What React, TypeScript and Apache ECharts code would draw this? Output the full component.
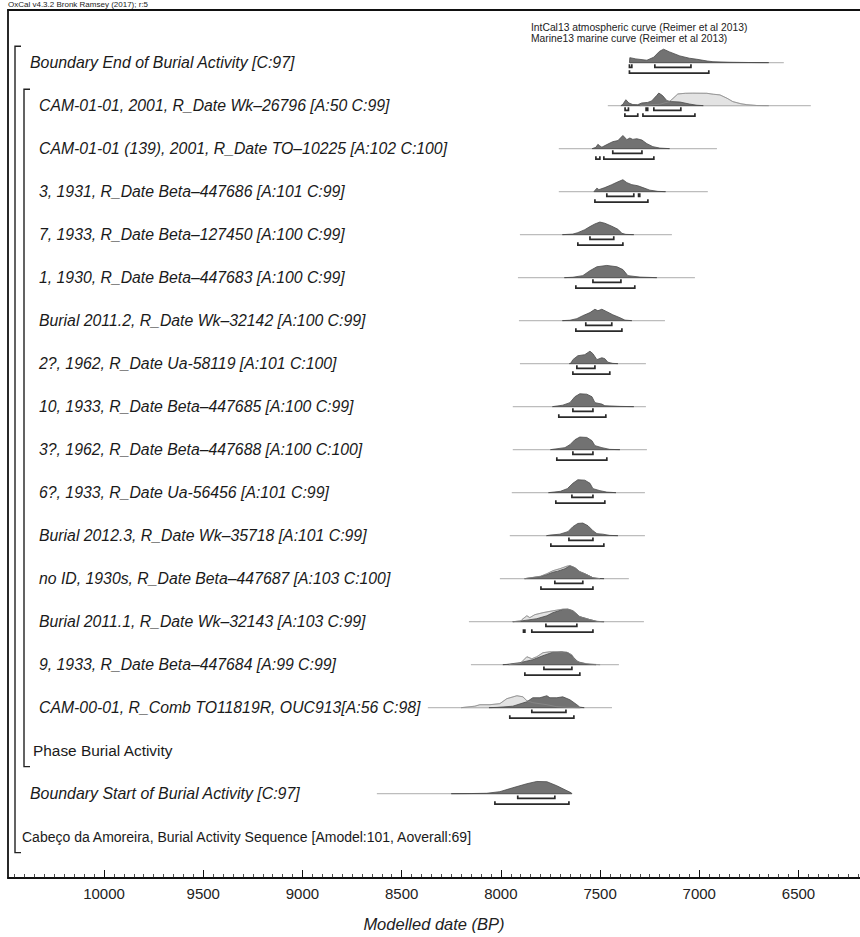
import React, { useEffect, useRef } from "react";
import * as echarts from "echarts";

const FONT = '"Liberation Sans", Arial, sans-serif';

// ---- rows (top to bottom) ----
const rowLabels = [
  "Boundary End of Burial Activity [C:97]",
  "CAM-01-01, 2001, R_Date Wk–26796 [A:50 C:99]",
  "CAM-01-01 (139), 2001, R_Date TO–10225 [A:102 C:100]",
  "3, 1931, R_Date Beta–447686 [A:101 C:99]",
  "7, 1933, R_Date Beta–127450 [A:100 C:99]",
  "1, 1930, R_Date Beta–447683 [A:100 C:99]",
  "Burial 2011.2, R_Date Wk–32142 [A:100 C:99]",
  "2?, 1962, R_Date Ua-58119 [A:101 C:100]",
  "10, 1933, R_Date Beta–447685 [A:100 C:99]",
  "3?, 1962, R_Date Beta–447688 [A:100 C:100]",
  "6?, 1933, R_Date Ua-56456 [A:101 C:99]",
  "Burial 2012.3, R_Date Wk–35718 [A:101 C:99]",
  "no ID, 1930s, R_Date Beta–447687 [A:103 C:100]",
  "Burial 2011.1, R_Date Wk–32143 [A:103 C:99]",
  "9, 1933, R_Date Beta–447684 [A:99 C:99]",
  "CAM-00-01, R_Comb TO11819R, OUC913[A:56 C:98]",
  "Phase Burial Activity",
  "Boundary Start of Burial Activity [C:97]",
  "Cabeço da Amoreira, Burial Activity Sequence [Amodel:101, Aoverall:69]",
];
const rowKinds = [
  "boundary",
  "item", "item", "item", "item", "item", "item", "item", "item",
  "item", "item", "item", "item", "item", "item", "item",
  "phase", "boundary", "sequence",
];

// ---- baselines (extent of each distribution, years BP) ----
const baselines: (number[] | null)[] = [
  [7350, 6574], [7461, 6438], [7708, 6911], [7708, 6957], [7904, 7138],
  [7914, 7022], [7909, 7173], [7904, 7269], [7940, 7269], [7940, 7264],
  [7945, 7274], [7955, 7274], [8005, 7355], [8161, 7279], [8151, 7405],
  [8368, 7440], null, [8625, 7642], null,
];

// ---- posterior (modelled) distributions: [year BP, relative prob] ----
const postBoundaryEnd = [[7352, 0], [7350, 0.37], [7320, 0.28], [7264, 0.18], [7230, 0.4], [7200, 0.85], [7180, 1.0], [7150, 0.8], [7098, 0.5], [7050, 0.33], [7012, 0.25], [6960, 0.12], [6931, 0.07], [6850, 0.03], [6750, 0.01], [6650, 0]];
const postWk26796 = [[7395, 0], [7385, 0.1], [7370, 0.44], [7355, 0.2], [7335, 0.08], [7310, 0.07], [7290, 0.2], [7260, 0.24], [7240, 0.35], [7215, 0.75], [7204, 0.94], [7185, 0.75], [7163, 0.37], [7140, 0.3], [7098, 0.27], [7050, 0.12], [7012, 0.03], [6980, 0]];
const postTO10225 = [[7540, 0], [7521, 0.1], [7511, 0.32], [7501, 0.2], [7491, 0.11], [7466, 0.3], [7436, 0.52], [7410, 0.6], [7385, 0.98], [7365, 0.67], [7350, 0.79], [7335, 0.69], [7315, 0.74], [7289, 0.64], [7264, 0.37], [7234, 0.15], [7199, 0.04], [7150, 0]];
const postBeta447686 = [[7531, 0], [7516, 0.26], [7506, 0.15], [7476, 0.3], [7441, 0.52], [7415, 0.7], [7385, 0.89], [7365, 0.67], [7340, 0.52], [7310, 0.44], [7284, 0.3], [7249, 0.11], [7209, 0.02], [7170, 0]];
const postBeta127450 = [[7690, 0], [7637, 0.04], [7612, 0.15], [7577, 0.37], [7551, 0.6], [7526, 0.8], [7501, 0.94], [7476, 0.85], [7441, 0.63], [7410, 0.4], [7390, 0.1], [7370, 0.02], [7330, 0]];
const postBeta447683 = [[7680, 0], [7637, 0.03], [7587, 0.15], [7551, 0.52], [7516, 0.81], [7466, 0.91], [7415, 0.81], [7385, 0.6], [7360, 0.15], [7299, 0.04], [7214, 0]];
const postWk32142 = [[7690, 0], [7652, 0.03], [7617, 0.15], [7587, 0.37], [7551, 0.6], [7526, 0.85], [7511, 0.74], [7491, 0.85], [7466, 0.67], [7436, 0.44], [7400, 0.22], [7375, 0.04], [7340, 0]];
const postUa58119 = [[7655, 0], [7647, 0.04], [7637, 0.3], [7612, 0.59], [7577, 0.67], [7551, 0.93], [7536, 0.74], [7516, 0.3], [7491, 0.44], [7476, 0.37], [7461, 0.11], [7436, 0.02], [7410, 0]];
const postBeta447685 = [[7740, 0], [7688, 0.11], [7652, 0.3], [7627, 0.74], [7602, 0.96], [7567, 0.93], [7541, 0.74], [7526, 0.3], [7491, 0.19], [7476, 0.07], [7400, 0.02], [7330, 0]];
const postBeta447688 = [[7750, 0], [7677, 0.15], [7652, 0.37], [7627, 0.74], [7602, 0.94], [7567, 0.91], [7541, 0.67], [7526, 0.3], [7491, 0.15], [7451, 0.02], [7400, 0]];
const postUa56456 = [[7760, 0], [7700, 0.1], [7665, 0.3], [7637, 0.7], [7612, 0.96], [7577, 0.93], [7551, 0.7], [7536, 0.3], [7501, 0.15], [7466, 0.04], [7420, 0]];
const postWk35718 = [[7770, 0], [7753, 0.04], [7703, 0.11], [7662, 0.3], [7637, 0.67], [7612, 0.91], [7587, 0.94], [7561, 0.74], [7536, 0.37], [7516, 0.15], [7486, 0.11], [7451, 0.02], [7410, 0]];
const postBeta447687 = [[7880, 0], [7803, 0.15], [7768, 0.3], [7738, 0.48], [7713, 0.56], [7677, 0.74], [7652, 0.96], [7627, 0.81], [7602, 0.52], [7567, 0.3], [7536, 0.07], [7516, 0.02], [7480, 0]];
const postWk32143 = [[7940, 0], [7904, 0.04], [7819, 0.22], [7768, 0.44], [7738, 0.67], [7688, 0.91], [7662, 0.93], [7637, 0.81], [7602, 0.37], [7551, 0.15], [7516, 0.02], [7480, 0]];
const postBeta447684 = [[7990, 0], [7970, 0.02], [7904, 0.15], [7839, 0.37], [7788, 0.67], [7738, 0.93], [7693, 0.96], [7662, 0.89], [7637, 0.59], [7612, 0.22], [7567, 0.04], [7520, 0]];
const postCAM0001 = [[8060, 0], [8020, 0.02], [7940, 0.11], [7869, 0.44], [7839, 0.74], [7803, 0.74], [7768, 0.89], [7753, 0.74], [7718, 0.74], [7688, 0.81], [7652, 0.59], [7617, 0.22], [7602, 0.04], [7580, 0]];
const postBoundaryStart = [[8250, 0], [8150, 0.01], [8071, 0.03], [8005, 0.15], [7940, 0.44], [7869, 0.74], [7819, 0.91], [7768, 0.89], [7718, 0.59], [7667, 0.22], [7645, 0.06], [7642, 0]];

// ---- likelihood (unmodelled) distributions ----
const likeWk26796 = [[7300, 0], [7200, 0.1], [7150, 0.3], [7108, 0.87], [7070, 0.92], [7032, 0.93], [6962, 0.92], [6930, 0.85], [6896, 0.8], [6860, 0.55], [6831, 0.3], [6790, 0.14], [6760, 0.07], [6710, 0.01], [6650, 0]];
const likeBeta447687 = [[7880, 0], [7800, 0.18], [7768, 0.37], [7738, 0.59], [7703, 0.74], [7667, 0.93], [7652, 0.97], [7627, 0.82], [7602, 0.52], [7567, 0.3], [7536, 0.07], [7500, 0]];
const likeWk32143 = [[7940, 0], [7900, 0.04], [7894, 0.15], [7869, 0.44], [7854, 0.3], [7829, 0.52], [7788, 0.67], [7738, 0.81], [7688, 0.93], [7662, 0.93], [7637, 0.81], [7602, 0.37], [7551, 0.15], [7516, 0.02], [7480, 0]];
const likeBeta447684 = [[7960, 0], [7900, 0.1], [7894, 0.22], [7869, 0.59], [7844, 0.44], [7819, 0.59], [7788, 0.89], [7753, 0.96], [7703, 0.93], [7667, 0.93], [7642, 0.74], [7627, 0.37], [7602, 0.15], [7551, 0.04], [7500, 0]];
const likeCAM0001 = [[8200, 0], [8131, 0.11], [8106, 0.22], [8055, 0.22], [8005, 0.3], [7970, 0.67], [7919, 0.89], [7889, 0.81], [7869, 0.52], [7839, 0.37], [7768, 0.22], [7718, 0.07], [7667, 0.02], [7600, 0]];

const posterior: (number[][] | null)[] = [
  postBoundaryEnd, postWk26796, postTO10225, postBeta447686, postBeta127450,
  postBeta447683, postWk32142, postUa58119, postBeta447685, postBeta447688,
  postUa56456, postWk35718, postBeta447687, postWk32143, postBeta447684,
  postCAM0001, null, postBoundaryStart, null,
];
const likelihood: (number[][] | null)[] = [
  null, likeWk26796, null, null, null, null, null, null, null, null, null, null,
  likeBeta447687, likeWk32143, likeBeta447684, likeCAM0001, null, null, null,
];

// ---- highest posterior density ranges [from, to] ----
const range68: number[][][] = [
  [[7352, 7340], [7224, 7042]],
  [[7374, 7357], [7268, 7260], [7229, 7093]],
  [[7436, 7289]],
  [[7466, 7330], [7306, 7300]],
  [[7551, 7431]],
  [[7536, 7395]],
  [[7572, 7441]],
  [[7617, 7526]],
  [[7637, 7536]],
  [[7637, 7536]],
  [[7642, 7536]],
  [[7657, 7536]],
  [[7728, 7587]],
  [[7773, 7617]],
  [[7783, 7642]],
  [[7844, 7672]],
  [],
  [[7915, 7728]],
  [],
];
const range95: number[][][] = [
  [[7352, 6952]],
  [[7375, 7310], [7284, 7022]],
  [[7521, 7501], [7481, 7229]],
  [[7526, 7259]],
  [[7612, 7385]],
  [[7622, 7325]],
  [[7622, 7390]],
  [[7637, 7451]],
  [[7708, 7471]],
  [[7718, 7466]],
  [[7723, 7476]],
  [[7748, 7481]],
  [[7798, 7536]],
  [[7886, 7879], [7844, 7536]],
  [[7879, 7602]],
  [[7955, 7632]],
  [],
  [[8030, 7657]],
  [],
];

const majorTicks = [10000, 9500, 9000, 8500, 8000, 7500, 7000, 6500];

// ---- layout constants ----
const X_MIN = 6190;
const X_MAX = 10484;
const Y_MIN = -1.224;
const Y_MAX = 18.961;
const H_SCALE = 0.312; // row units per unit of relative probability
const OFF68 = 0.11;
const OFF95 = 0.245;
const TICK = 0.07;
const labelX: Record<string, number> = { boundary: 30, item: 39, phase: 33, sequence: 22 };
const labelSize: Record<string, number> = { boundary: 15.9, item: 15.8, phase: 15.4, sequence: 14 };

export default function App() {
  const ref = useRef<HTMLDivElement>(null);

  useEffect(() => {
    if (!ref.current) return;
    const chart = echarts.init(ref.current, undefined, { renderer: "svg" });

    const minorTicks: number[] = [];
    for (let v = 6200; v <= 10450; v += 50) if (v % 500 !== 0) minorTicks.push(v);

    const rowIdx = rowLabels.map((_, i) => i);

    const areaRender = (arrs: (number[][] | null)[], fill: string, stroke: string, width: number, closed: boolean) =>
      (params: any, api: any) => {
        const row = api.value(1);
        const pts = arrs[row] as number[][];
        const points = pts.map(([yr, h]) => api.coord([yr, row - h * H_SCALE]));
        return closed
          ? { type: "polygon", shape: { points }, style: { fill, stroke, lineWidth: width } }
          : { type: "polyline", shape: { points }, style: { fill: "none", stroke, lineWidth: width } };
      };

    const curveData = (arrs: (number[][] | null)[]) =>
      rowIdx.filter((r) => arrs[r]).map((r) => [(arrs[r] as number[][])[0][0], r]);

    const bracketData: number[][] = [];
    rowIdx.forEach((r) => {
      range68[r].forEach(([a, b]) => bracketData.push([a, r, b, OFF68]));
      range95[r].forEach(([a, b]) => bracketData.push([a, r, b, OFF95]));
    });

    // left structural brackets: [firstRow, lastRow, xPixel]
    const groupBrackets = [
      [0, 18, 15],
      [1, 16, 24],
    ];

    const xBase = {
      type: "value",
      inverse: true,
      min: X_MIN,
      max: X_MAX,
      splitLine: { show: false },
    };

    const option: any = {
      animation: false,
      backgroundColor: "#ffffff",
      grid: { left: 8, right: 0, top: 10, bottom: 53, containLabel: false },
      xAxis: [
        {
          ...xBase,
          position: "bottom",
          axisLine: { show: true, onZero: false, lineStyle: { color: "#111", width: 1.8 } },
          axisTick: { show: true, inside: true, length: 8, customValues: majorTicks, lineStyle: { color: "#111", width: 1 } },
          axisLabel: {
            show: true,
            customValues: majorTicks,
            formatter: (v: number) => String(v),
            fontSize: 15,
            color: "#222",
            fontFamily: FONT,
            margin: 8,
          },
          name: "Modelled date (BP)",
          nameLocation: "middle",
          nameGap: 37,
          nameTextStyle: { fontSize: 16.5, fontStyle: "italic", color: "#222", fontFamily: FONT },
        },
        {
          ...xBase,
          position: "bottom",
          axisLine: { show: false, onZero: false },
          axisTick: { show: true, inside: true, length: 4, customValues: minorTicks, lineStyle: { color: "#222", width: 0.8 } },
          axisLabel: { show: false },
        },
        {
          ...xBase,
          position: "top",
          axisLine: { show: true, onZero: false, lineStyle: { color: "#111", width: 1.8 } },
          axisTick: { show: false },
          axisLabel: { show: false },
        },
      ],
      yAxis: {
        type: "value",
        inverse: true,
        min: Y_MIN,
        max: Y_MAX,
        position: "left",
        axisLine: { show: true, onZero: false, lineStyle: { color: "#111", width: 1.8 } },
        axisTick: { show: false },
        axisLabel: { show: false },
        splitLine: { show: false },
      },
      graphic: [
        {
          type: "text",
          left: 8,
          top: 0,
          style: { text: "OxCal v4.3.2 Bronk Ramsey (2017); r:5", fontSize: 8, fontFamily: FONT, fill: "#222" },
        },
        {
          type: "text",
          left: 531,
          top: 22,
          style: { text: "IntCal13 atmospheric curve (Reimer et al 2013)", fontSize: 10.3, fontFamily: FONT, fill: "#222" },
        },
        {
          type: "text",
          left: 531,
          top: 33,
          style: { text: "Marine13 marine curve (Reimer et al 2013)", fontSize: 10.3, fontFamily: FONT, fill: "#222" },
        },
      ],
      series: [
        {
          type: "custom",
          name: "baselines",
          silent: true,
          xAxisIndex: 0,
          yAxisIndex: 0,
          data: rowIdx.filter((r) => baselines[r]).map((r) => [(baselines[r] as number[])[0], r, (baselines[r] as number[])[1]]),
          renderItem: (params: any, api: any) => {
            const p1 = api.coord([api.value(0), api.value(1)]);
            const p2 = api.coord([api.value(2), api.value(1)]);
            return {
              type: "line",
              shape: { x1: p1[0], y1: p1[1], x2: p2[0], y2: p2[1] },
              style: { stroke: "#bdbdbd", lineWidth: 1.1 },
            };
          },
        },
        {
          type: "custom",
          name: "likelihood",
          silent: true,
          xAxisIndex: 0,
          yAxisIndex: 0,
          data: curveData(likelihood),
          renderItem: areaRender(likelihood, "#e3e3e3", "#a8a8a8", 0.8, true),
        },
        {
          type: "custom",
          name: "posterior",
          silent: true,
          xAxisIndex: 0,
          yAxisIndex: 0,
          data: curveData(posterior),
          renderItem: areaRender(posterior, "#727272", "#4a4a4a", 0.8, true),
        },
        {
          type: "custom",
          name: "likelihood outline",
          silent: true,
          xAxisIndex: 0,
          yAxisIndex: 0,
          data: curveData(likelihood),
          renderItem: areaRender(likelihood, "none", "#8c8c8c", 0.7, false),
        },
        {
          type: "custom",
          name: "ranges",
          silent: true,
          xAxisIndex: 0,
          yAxisIndex: 0,
          data: bracketData,
          renderItem: (params: any, api: any) => {
            const a = api.value(0);
            const r = api.value(1);
            const b = api.value(2);
            const off = api.value(3);
            const pts = [
              api.coord([a, r + off - TICK]),
              api.coord([a, r + off]),
              api.coord([b, r + off]),
              api.coord([b, r + off - TICK]),
            ];
            return { type: "polyline", shape: { points: pts }, style: { fill: "none", stroke: "#2a2a2a", lineWidth: 1.7 } };
          },
        },
        {
          type: "custom",
          name: "labels",
          silent: true,
          xAxisIndex: 0,
          yAxisIndex: 0,
          data: rowIdx.map((r) => [X_MAX, r]),
          renderItem: (params: any, api: any) => {
            const r = api.value(1);
            const y = api.coord([X_MAX, r])[1];
            const kind = rowKinds[r];
            const italic = kind === "boundary" || kind === "item";
            return {
              type: "text",
              x: labelX[kind],
              y,
              style: {
                text: rowLabels[r],
                fill: "#1a1a1a",
                fontSize: labelSize[kind],
                fontFamily: FONT,
                fontStyle: italic ? "italic" : "normal",
                align: "left",
                verticalAlign: "middle",
              },
            };
          },
        },
        {
          type: "custom",
          name: "groups",
          silent: true,
          xAxisIndex: 0,
          yAxisIndex: 0,
          data: groupBrackets.map(([a, b, x]) => [X_MAX, a, b, x]),
          renderItem: (params: any, api: any) => {
            const top = api.coord([X_MAX, api.value(1) - 0.38])[1];
            const bot = api.coord([X_MAX, api.value(2) + 0.37])[1];
            const x = api.value(3);
            return {
              type: "polyline",
              shape: { points: [[x + 6, top], [x, top], [x, bot], [x + 6, bot]] },
              style: { fill: "none", stroke: "#222", lineWidth: 1.4 },
            };
          },
        },
      ],
    };

    chart.setOption(option);
    return () => chart.dispose();
  }, []);

  return (
    <div
      ref={ref}
      style={{ position: "absolute", left: 0, top: 0, width: 860, height: 937, background: "#fff" }}
    />
  );
}
